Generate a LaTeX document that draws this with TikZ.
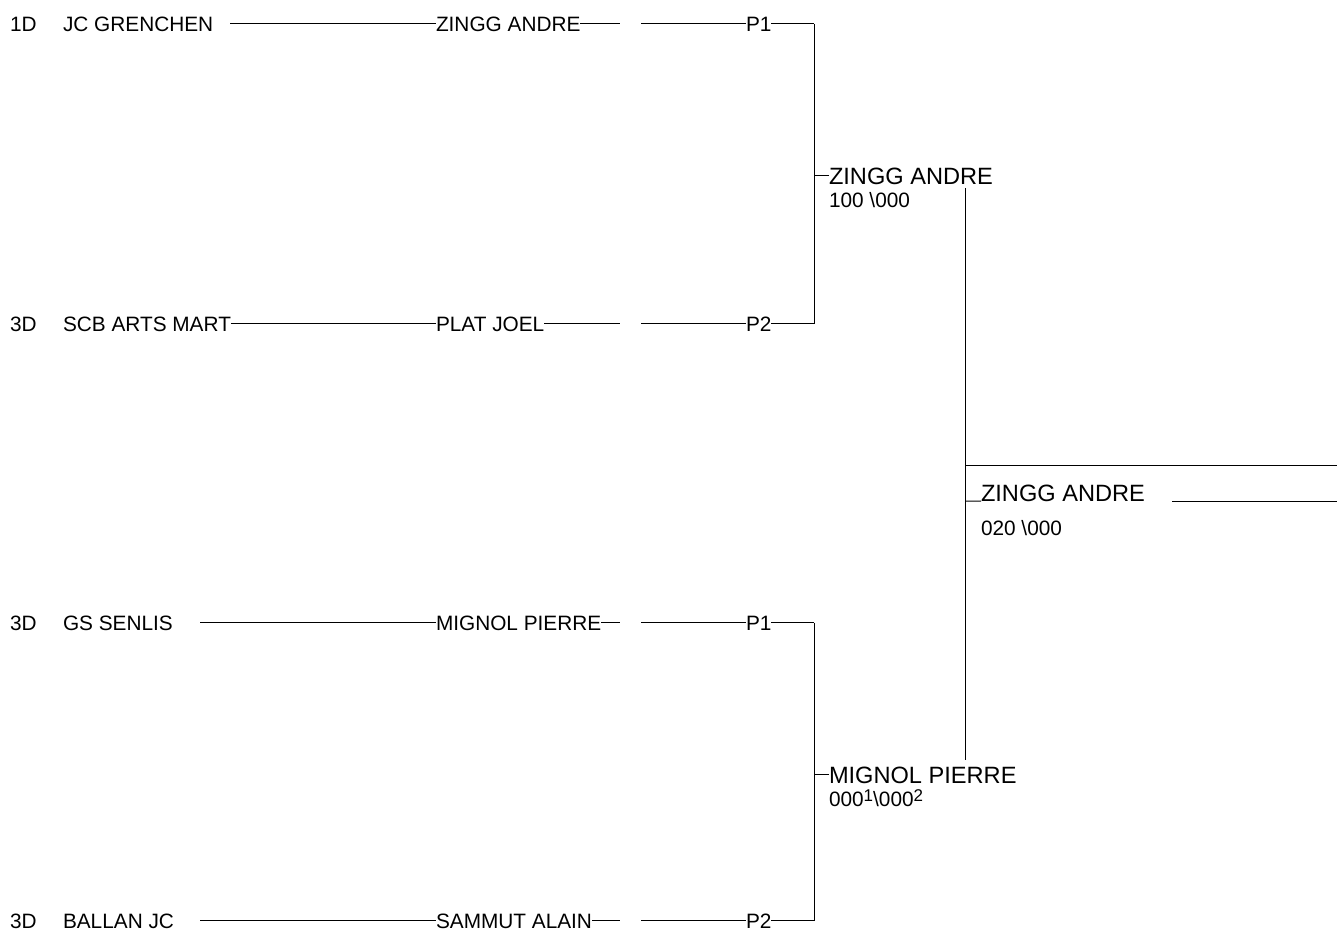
\documentclass[tikz,border=0pt]{standalone}
\usepackage{fontspec}
\setmainfont{Liberation Sans}
\newcommand\smf{\fontsize{20.8}{24}\selectfont}
\newcommand\bgf{\fontsize{23.6}{28}\selectfont}
\newcommand\supd[1]{\raisebox{5pt}{\fontsize{17}{20}\selectfont #1}}
\begin{document}
\begin{tikzpicture}[x=1pt,y=-1pt,
  txt/.style={inner sep=0pt,outer sep=0pt,anchor=base west,font=\smf},
  bigtxt/.style={inner sep=0pt,outer sep=0pt,anchor=base west,font=\bgf},
  ln/.style={draw=black,line width=1pt}]
\useasboundingbox (0,0) rectangle (1337,932);

% ---- row labels ----
\node[txt] (s1) at (10,31) {1D};
\node[txt] (c1) at (63,31) {JC GRENCHEN};
\node[txt] (p1) at (436,31) {ZINGG ANDRE};
\node[txt] (q1) at (746,31) {P1};

\node[txt] (s2) at (10,331) {3D};
\node[txt] (c2) at (63,331) {SCB ARTS MART};
\node[txt] (p2) at (436,331) {PLAT JOEL};
\node[txt] (q2) at (746,331) {P2};

\node[txt] (s3) at (10,630) {3D};
\node[txt] (c3) at (63,630) {GS SENLIS};
\node[txt] (p3) at (436,630) {MIGNOL PIERRE};
\node[txt] (q3) at (746,630) {P1};

\node[txt] (s4) at (10,928) {3D};
\node[txt] (c4) at (63,928) {BALLAN JC};
\node[txt] (p4) at (436,928) {SAMMUT ALAIN};
\node[txt] (q4) at (746,928) {P2};

% ---- row connectors ----
\coordinate (a1) at (230,0 |- p1.west);
\coordinate (a2) at (c2.east |- p2.west);
\coordinate (a3) at (200,0 |- p3.west);
\coordinate (a4) at (200,0 |- p4.west);
\foreach \i in {1,2,3,4}{
  \coordinate (e\i) at (620,0 |- p\i.west);
  \coordinate (f\i) at (641,0 |- q\i.west);
  \coordinate (v\i) at (814,0 |- q\i.west);
  \draw[ln] (a\i) -- (p\i.west);
  \draw[ln] (p\i.east) -- (e\i);
  \draw[ln] (f\i) -- (q\i.west);
  \draw[ln] (q\i.east) -- (v\i);
}
\draw[ln] (v1) -- (v2);
\draw[ln] (v3) -- (v4);

% ---- semi-final winners ----
\node[bigtxt] (m1) at (829,184) {ZINGG ANDRE};
\node[txt] (r1) at (829,207) {100 \textbackslash 000};
\draw[ln] (m1.west) -- (814,0 |- m1.west);

\node[bigtxt] (m2) at (829,783) {MIGNOL PIERRE};
\node[txt] (r2) at (829,806) {000\supd{1}\textbackslash 000\supd{2}};
\draw[ln] (m2.west) -- (814,0 |- m2.west);

% ---- final ----
\coordinate (t1) at (965,188);
\coordinate (t2) at (965,760);
\draw[ln] (t1) -- (t2);
\coordinate (h1) at (965,465);
\coordinate (h2) at (1337,465);
\draw[ln] (h1) -- (h2);
\node[bigtxt] (w) at (981,501) {ZINGG ANDRE};
\node[txt] (wr) at (981,535) {020 \textbackslash 000};
\coordinate (u1) at (965,501);
\draw[ln] (u1) -- (w.south west);
\coordinate (u2) at (1172,501);
\coordinate (u3) at (1337,501);
\draw[ln] (u2) -- (u3);
\end{tikzpicture}
\end{document}
